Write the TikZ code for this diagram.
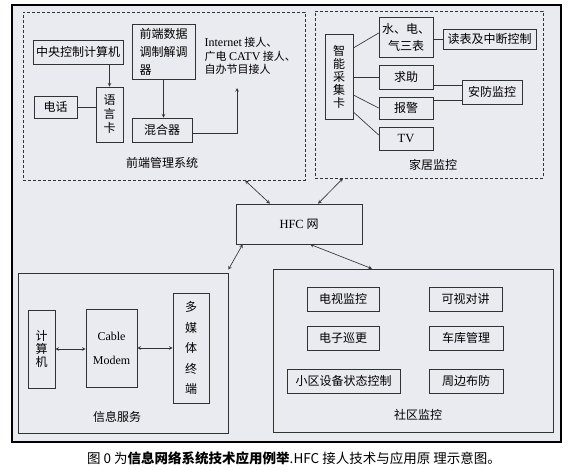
\documentclass[tikz,border=0pt]{standalone}
\usepackage{fontspec}
\setmainfont{Liberation Serif}
\newfontfamily\cjk{Noto Sans CJK SC}
\definecolor{paper}{RGB}{234,234,241}
\definecolor{ink}{RGB}{50,50,50}
\tikzset{
  box/.style={draw=ink, inner sep=0pt, align=center, font=\cjk\fontsize{12}{14}\selectfont},
  dashbox/.style={draw=ink, dash pattern=on 3pt off 2pt},
  lbl/.style={font=\cjk\fontsize{12}{14}\selectfont},
}
\begin{document}
\begin{tikzpicture}[x=1pt, y=-1pt, >=stealth, line width=0.65pt, draw=ink]
    \useasboundingbox (0,0) rectangle (581,470);
    \draw[line width=2.5pt, draw=black, fill=paper] (12,5) rectangle (561,442);
    % front end
    \node[dashbox, minimum width=282pt, minimum height=168pt] (front) at (164,96) {};
    \node[box, minimum width=90pt, minimum height=24pt] (ctrl) at (78,52) {中央控制计算机};
    \node[box, minimum width=43pt, minimum height=22pt] (phone) at (55.5,107) {电话};
    \node[box, minimum width=27pt, minimum height=55pt, font=\cjk\fontsize{12}{14}\selectfont] (vcard) at (109.5,114.5) {语\\言\\卡};
    \node[box, minimum width=63pt, minimum height=55pt, align=left, font=\cjk\fontsize{12}{18}\selectfont] (demod) at (163.5,51.5) {前端数据\\调制解调\\器};
    \node[box, minimum width=60pt, minimum height=24pt] (mixer) at (162,130) {混合器};
    \node[anchor=north west, align=left, font=\cjk\fontsize{11}{13.5}\selectfont] (access) at (201,34) {{\rmfamily\fontsize{12}{13.5}\selectfont Internet} 接人、\\广电 {\rmfamily\fontsize{12}{13.5}\selectfont CATV} 接人、\\自办节目接人};
    \node[lbl] (frontlbl) at (162,163) {前端管理系统};
    \coordinate (up) at (237,88);
    \draw[->] (vcard.north |- ctrl.south) -- (vcard.north);
    \draw (phone.east) -- (phone.east -| vcard.west);
    \draw[->] (demod.south) -- (demod.south |- mixer.north);
    \draw[->] ([yshift=-3pt]mixer.east) -| (up);
    % home
    \node[dashbox, minimum width=228pt, minimum height=167pt] (home) at (429,94.5) {};
    \node[box, minimum width=28pt, minimum height=85pt, font=\cjk\fontsize{12}{13}\selectfont] (smart) at (339,76.5) {智\\能\\采\\集\\卡};
    \node[box, minimum width=54pt, minimum height=40pt, font=\cjk\fontsize{12}{17}\selectfont] (meter) at (406,37) {水、电、\\气三表};
    \node[box, minimum width=93pt, minimum height=20pt] (read) at (489.5,39) {读表及中断控制};
    \node[box, minimum width=54pt, minimum height=24pt] (help) at (406,77) {求助};
    \node[box, minimum width=54pt, minimum height=22pt] (alarm) at (406,108) {报警};
    \node[box, minimum width=54pt, minimum height=23pt, font=\rmfamily\fontsize{12.5}{14}\selectfont] (tv) at (406,138.5) {TV};
    \node[box, minimum width=60pt, minimum height=24pt] (secur) at (492,92) {安防监控};
    \node[lbl] (homelbl) at (433,165) {家居监控};
    \draw ([yshift=28.5pt]smart.east) -- ([yshift=4pt]meter.west);
    \draw (smart.east |- help.west) -- (help.west);
    \draw ([yshift=-18.5pt]smart.east) -- (alarm.west);
    \draw ([yshift=-35.5pt]smart.east) -- ([yshift=3.5pt]tv.west);
    \draw (meter.east |- read.west) -- (read.west);
    \draw ([yshift=7pt]secur.west) -- ++(-29,0);
    \draw ([yshift=-8pt]secur.west) -- ++(-29,0);
    % HFC
    \node[box, minimum width=126pt, minimum height=40pt] (hfc) at (299,224) {{\rmfamily\fontsize{12.5}{14}\selectfont HFC} 网};
    % info service
    \node[box, minimum width=210pt, minimum height=160pt] (info) at (123,353) {};
    \node[box, minimum width=27pt, minimum height=78pt, font=\cjk\fontsize{12}{13}\selectfont] (pc) at (41.5,349) {计\\算\\机};
    \node[box, minimum width=51pt, minimum height=78pt, font=\rmfamily\fontsize{12}{24}\selectfont] (cm) at (111.5,348) {Cable\\Modem};
    \node[box, minimum width=36pt, minimum height=110pt, font=\cjk\fontsize{12}{20.5}\selectfont] (mm) at (191,348) {多\\媒\\体\\终\\端};
    \node[lbl] (infolbl) at (117,417) {信息服务};
    \draw[<->] (pc.east) -- (pc.east -| cm.west);
    \draw[<->] (cm.east) -- (mm.west);
    % community
    \node[box, minimum width=280pt, minimum height=163pt] (comm) at (413,350.5) {};
    \node[box, minimum width=72pt, minimum height=24pt] (tvmon) at (343,299) {电视监控};
    \node[box, minimum width=73pt, minimum height=24pt] (intercom) at (465.5,299) {可视对讲};
    \node[box, minimum width=72pt, minimum height=24pt] (patrol) at (343,338) {电子巡更};
    \node[box, minimum width=74pt, minimum height=24pt] (garage) at (466,338) {车库管理};
    \node[box, minimum width=113pt, minimum height=24pt] (equip) at (343.5,381) {小区设备状态控制};
    \node[box, minimum width=74pt, minimum height=24pt] (fence) at (466,381) {周边布防};
    \node[lbl] (commlbl) at (418,415) {社区监控};
    % links to HFC
    \draw[<->] ([xshift=81pt]front.south) -- ([xshift=-29pt]hfc.north);
    \draw[<->] ([xshift=-86pt]home.south) -- ([xshift=19pt]hfc.north);
    \draw[<->] ([xshift=7pt]hfc.south west) -- ([yshift=3pt]info.north east);
    \draw[<->] ([xshift=11pt]hfc.south) -- ([xshift=-41pt]comm.north);
    \node[font=\cjk\fontsize{13.5}{15}\selectfont] (caption) at (294,458) {图 0 为\textbf{信息网络系统技术应用例举}.HFC 接人技术与应用原 理示意图。};
\end{tikzpicture}
\end{document}
